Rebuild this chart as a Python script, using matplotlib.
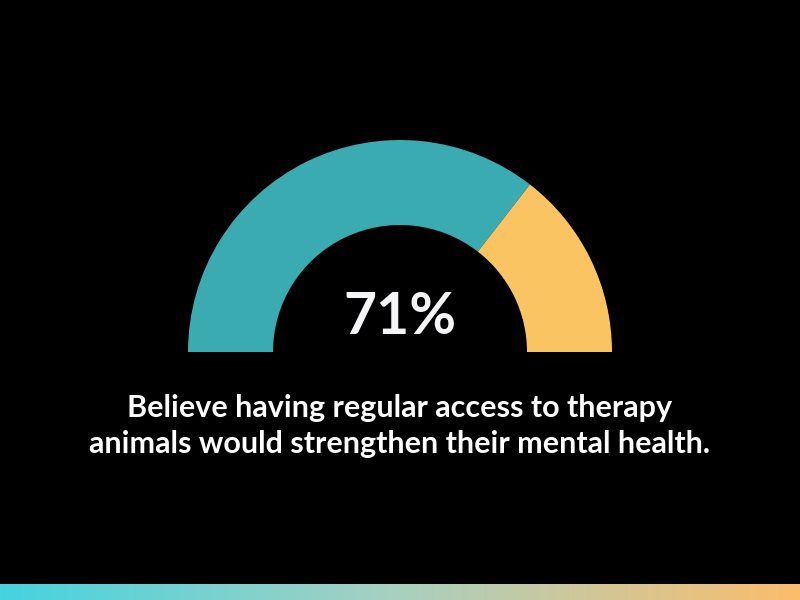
import matplotlib
matplotlib.use("Agg")
import matplotlib.pyplot as plt
from matplotlib.patches import Wedge
from matplotlib.colors import LinearSegmentedColormap
import numpy as np

# data
labels = ["Agree", "Other"]
values = [71, 29]
colors = ["#3aabb0", "#fbc463"]
headline = "71%"
caption = "Believe having regular access to therapy\nanimals would strengthen their mental health."
bar_colors = ["#45d3e0", "#a9d0c0", "#fbbd6c"]

fig = plt.figure(figsize=(8, 6), dpi=100)
fig.patch.set_facecolor("black")
ax = fig.add_axes([0, 0, 1, 1])
ax.set_xlim(0, 800)
ax.set_ylim(600, 0)
ax.axis("off")
ax.set_facecolor("black")

# gauge, drawn from the left side (180 deg) clockwise
cx, cy = 400, 352
r_out, r_in = 212, 127
start = 180.0
total = sum(values)
for v, c in zip(values, colors):
    span = 180.0 * v / total
    # y axis is inverted, so angles flip sign
    w = Wedge((cx, cy), r_out, -start, -start + span, width=r_out - r_in,
              facecolor=c, edgecolor="none")
    ax.add_patch(w)
    start -= span

ax.text(cx, 318, headline, ha="center", va="center", color="#f5f5f7",
        fontsize=41, fontweight="bold", family="Lato")
ax.text(cx, 426, caption, ha="center", va="center", color="white",
        fontsize=22, fontweight="bold", family="Lato", linespacing=1.33)

# gradient strip at the bottom
cmap = LinearSegmentedColormap.from_list("strip", bar_colors)
grad = np.linspace(0, 1, 256).reshape(1, -1)
ax.imshow(grad, cmap=cmap, aspect="auto", extent=(0, 800, 600, 584))
ax.set_xlim(0, 800)
ax.set_ylim(600, 0)

fig.savefig("out.png", dpi=100, facecolor="black")
